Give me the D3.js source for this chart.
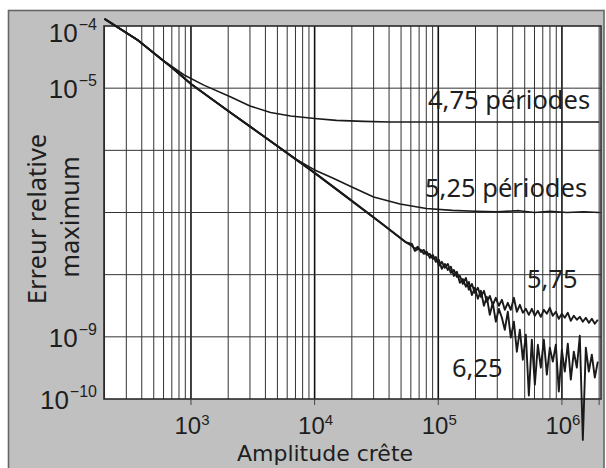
<!DOCTYPE html>
<html><head><meta charset="utf-8">
<script src="https://cdn.jsdelivr.net/npm/d3@7"></script>
<style>
body{margin:0;background:#fff}
svg{display:block}
text{font-family:"Noto Sans",sans-serif;fill:#1e1e1e}
</style>
</head><body>
<svg id="chart" width="606" height="468"></svg>
<script>
// ---- data ----
const ampMain = [200, 370, 700, 1000, 2000, 4000, 1e4, 1.8e4, 3.4e4, 5.5e4];
const errMain = [1.3e-4, 5.96e-5, 2.15e-5, 1.17e-5, 4.3e-6, 1.61e-6, 4.34e-7, 1.8e-7, 6.93e-8, 3.3e-8];

const amp475 = [200, 370, 560, 880, 1270, 2100, 3000, 4400, 6400, 1e4, 1.5e4, 2.5e4, 4e4, 1e5, 3e5, 1e6, 2e6];
const err475 = [1.3e-4, 5.96e-5, 3.03e-5, 1.63e-5, 1.12e-5, 7.2e-6, 5.18e-6, 4.06e-6, 3.57e-6, 3.26e-6, 3.03e-6, 2.92e-6, 2.86e-6, 2.86e-6, 2.86e-6, 2.86e-6, 2.86e-6];

const amp525 = [200, 370, 700, 1000, 2000, 4000, 7000, 1e4, 1.4e4, 2e4, 3e4, 4.9e4, 8e4, 1.3e5, 2e5, 3e5, 4.5e5, 6e5, 8e5, 1.1e6, 1.5e6, 2e6];
const err525 = [1.3e-4, 5.96e-5, 2.15e-5, 1.17e-5, 4.3e-6, 1.61e-6, 7.3e-7, 4.84e-7, 3.6e-7, 2.58e-7, 1.78e-7, 1.37e-7, 1.16e-7, 1.08e-7, 1.05e-7, 1.03e-7, 1.07e-7, 1.0e-7, 1.05e-7, 1.0e-7, 1.03e-7, 1.0e-7];

const ampNoise = [6.12e4, 6.47e4, 6.84e4, 7.23e4, 7.65e4, 8.09e4, 8.55e4, 9.04e4, 9.56e4, 1.011e5,
  1.069e5, 1.13e5, 1.195e5, 1.264e5, 1.337e5, 1.414e5, 1.495e5, 1.581e5, 1.672e5, 1.768e5,
  1.869e5, 1.977e5, 2.09e5, 2.21e5, 2.34e5, 2.47e5, 2.61e5, 2.76e5, 2.92e5, 3.09e5,
  3.27e5, 3.45e5, 3.65e5, 3.86e5, 4.09e5, 4.32e5, 4.57e5, 4.83e5, 5.11e5, 5.40e5,
  5.71e5, 6.04e5, 6.39e5, 6.75e5, 7.14e5, 7.55e5, 7.98e5, 8.44e5, 8.93e5, 9.44e5,
  9.98e5, 1.055e6, 1.116e6, 1.18e6, 1.248e6, 1.32e6, 1.395e6, 1.476e6, 1.561e6, 1.65e6,
  1.745e6, 1.845e6, 1.95e6];
const err575Noise = [2.90e-8, 2.60e-8, 2.80e-8, 2.33e-8, 2.50e-8, 2.08e-8, 2.16e-8, 1.79e-8, 1.93e-8, 1.39e-8,
  1.61e-8, 1.29e-8, 1.49e-8, 1.07e-8, 1.19e-8, 9.2e-9, 9.55e-9, 7.1e-9, 8.87e-9, 5.7e-9,
  7.1e-9, 5.1e-9, 6.15e-9, 4.4e-9, 5.5e-9, 3.66e-9, 4.56e-9, 3.27e-9, 4.24e-9, 3.16e-9,
  3.94e-9, 2.72e-9, 3.53e-9, 2.72e-9, 4.24e-9, 2.53e-9, 3.27e-9, 2.44e-9, 2.82e-9, 2.26e-9,
  2.82e-9, 2.18e-9, 2.62e-9, 2.10e-9, 2.72e-9, 2.35e-9, 2.93e-9, 2.18e-9, 2.53e-9, 1.95e-9,
  2.35e-9, 2.03e-9, 2.44e-9, 1.81e-9, 2.18e-9, 1.88e-9, 2.10e-9, 1.75e-9, 2.03e-9, 1.68e-9,
  1.95e-9, 1.62e-9, 1.88e-9];
const err625Noise = [3.13e-8, 2.41e-8, 2.60e-8, 2.50e-8, 2.16e-8, 2.33e-8, 1.86e-8, 2.08e-8, 1.61e-8, 1.73e-8,
  1.24e-8, 1.49e-8, 1.19e-8, 1.34e-8, 9.55e-9, 1.11e-8, 7.4e-9, 8.5e-9, 6.4e-9, 7.65e-9,
  4.7e-9, 6.15e-9, 4.1e-9, 5.5e-9, 3.16e-9, 4.4e-9, 2.26e-9, 3.53e-9, 1.75e-9, 2.82e-9,
  2.03e-9, 1.30e-9, 2.53e-9, 9.7e-10, 1.75e-9, 5.77e-10, 1.30e-9, 4.29e-10, 1.08e-9, 1.14e-10,
  9.0e-10, 1.70e-10, 7.45e-10, 3.19e-10, 9.0e-10, 2.47e-10, 6.7e-10, 3.99e-10, 7.45e-10, 1.32e-10,
  6.2e-10, 2.76e-10, 7.75e-10, 2.05e-10, 5.77e-10, 3.19e-10, 1.04e-9, 2.2e-11, 6.7e-10, 2.76e-10,
  5.16e-10, 2.21e-10, 3.99e-10];

const xTickValues = [1e3, 1e4, 1e5, 1e6];
const xTickExps = ["3", "4", "5", "6"];
const yTickValues = [1e-4, 1e-5, 1e-9, 1e-10];
const yTickExps = ["−4", "−5", "−9", "−10"];
const seriesLabels = ["4,75 périodes", "5,25 périodes", "5,75", "6,25"];
const xTitle = "Amplitude crête";
const yTitleLines = ["Erreur relative", "maximum"];

// ---- layout ----
const svg = d3.select("#chart");
const L = 104, R = 601, T = 26, B = 399;
const x = d3.scaleLog().domain([198, 2.07e6]).range([L, R]);
const y = d3.scaleLog().domain([1e-10, 1e-4]).range([B, T]);

// outer grey panel
svg.append("rect").attr("x", 8.5).attr("y", 10.5).attr("width", 595.5).attr("height", 470)
  .attr("fill", "#c0c0c0").attr("stroke", "#666").attr("stroke-width", 1.6);
// plot area
svg.append("rect").attr("x", L).attr("y", T).attr("width", R - L).attr("height", B - T)
  .attr("fill", "#fff");

// vertical grid (all 1..9 x decades)
const xGrid = [];
for (let d = 2; d <= 6; d++) for (let k = 1; k <= 9; k++) {
  const v = k * Math.pow(10, d);
  if (v > 198 && v < 2.07e6) xGrid.push(v);
}
svg.append("g").selectAll("line").data(xGrid).join("line")
  .attr("x1", d => x(d)).attr("x2", d => x(d)).attr("y1", T).attr("y2", B)
  .attr("stroke", d => xTickValues.includes(d) ? "#111" : "#333")
  .attr("stroke-width", d => xTickValues.includes(d) ? 1.6 : 1);

// horizontal grid (decades)
const yGrid = [1e-5, 1e-6, 1e-7, 1e-8, 1e-9];
svg.append("g").selectAll("line").data(yGrid).join("line")
  .attr("x1", L).attr("x2", R).attr("y1", d => y(d)).attr("y2", d => y(d))
  .attr("stroke", "#333").attr("stroke-width", 1);

// plot frame
svg.append("rect").attr("x", L).attr("y", T).attr("width", R - L).attr("height", B - T)
  .attr("fill", "none").attr("stroke", "#2a2a2a").attr("stroke-width", 1.6);

// bottom ticks
svg.append("g").selectAll("line").data(xTickValues.concat([2e6])).join("line")
  .attr("x1", d => x(d)).attr("x2", d => x(d)).attr("y1", B).attr("y2", B + 6)
  .attr("stroke", "#444").attr("stroke-width", 1);

// x tick labels
const xl = svg.append("g").selectAll("text").data(xTickValues).join("text")
  .attr("x", d => x(d) + 1).attr("y", 434).attr("text-anchor", "middle")
  .style("font-family", "'Liberation Sans', Arial, sans-serif")
  .style("font-size", "24px");
xl.append("tspan").text("10");
xl.append("tspan").attr("dy", -9).style("font-size", "15px").text((d, i) => xTickExps[i]);

// y tick labels
const yl = svg.append("g").selectAll("text").data(yTickValues).join("text")
  .attr("x", 97).attr("y", d => d === 1e-4 ? y(d) + 16 : y(d) + 10).attr("text-anchor", "end")
  .style("font-family", "'Liberation Sans', Arial, sans-serif")
  .style("font-size", "26px");
yl.append("tspan").text("10");
yl.append("tspan").attr("dy", -12).attr("dx", 1).style("font-size", "16px").text((d, i) => yTickExps[i]);

// axis titles
svg.append("text").attr("x", 325).attr("y", 461).attr("text-anchor", "middle")
  .style("font-family", "'DejaVu Sans', sans-serif")
  .style("font-size", "22px").text(xTitle);
svg.append("text").attr("transform", "translate(46,219) rotate(-90)").attr("text-anchor", "middle")
  .style("font-size", "25.5px").text(yTitleLines[0]);
svg.append("text").attr("transform", "translate(79,217) rotate(-90)").attr("text-anchor", "middle")
  .style("font-size", "25.5px").text(yTitleLines[1]);

// curves
const zip = (a, b) => a.map((v, i) => [v, b[i]]);
const series = [
  zip(amp475, err475),
  zip(amp525, err525),
  zip(ampMain.concat(ampNoise), errMain.concat(err575Noise)),
  zip(ampMain.concat(ampNoise), errMain.concat(err625Noise))
];
const line = d3.line().x(d => x(d[0])).y(d => y(d[1]));
svg.append("g").selectAll("path").data(series).join("path")
  .attr("d", line).attr("fill", "none").attr("stroke", "#1a1a1a")
  .attr("stroke-width", (d, i) => i < 2 ? 1.6 : 1.9).attr("stroke-linejoin", "round");

// series labels
const labelPos = [[428, 109], [425, 197], [527, 288], [452, 377]];
svg.append("g").selectAll("text").data(seriesLabels).join("text")
  .attr("x", (d, i) => labelPos[i][0]).attr("y", (d, i) => labelPos[i][1])
  .style("font-size", "25.5px").text(d => d);
</script>
</body></html>
